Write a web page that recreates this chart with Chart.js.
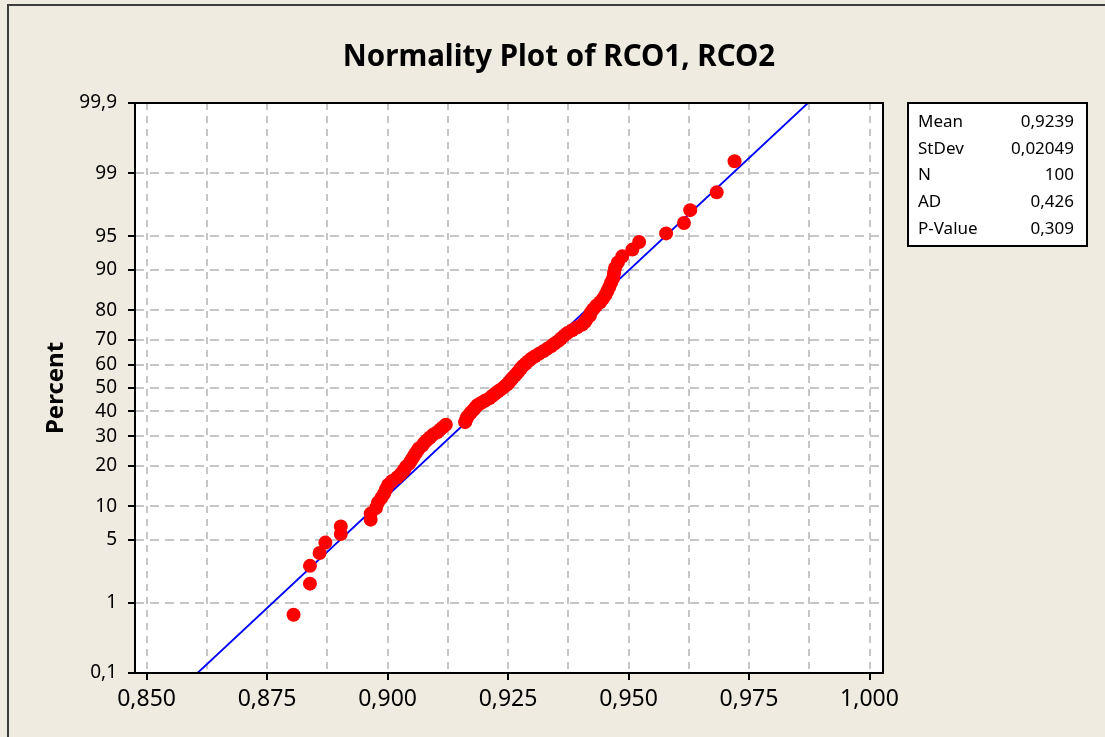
<!DOCTYPE html>
<html>
<head>
<meta charset="utf-8">
<title>Normality Plot of RCO1, RCO2</title>
<script src="https://cdn.jsdelivr.net/npm/chart.js@4.4.1/dist/chart.umd.min.js"></script>
<style>
  html, body { margin: 0; padding: 0; background: #EFEBE1; }
  #wrap { width: 1105px; height: 737px; }
</style>
</head>
<body>
<div id="wrap"><canvas id="plot" width="1105" height="737"></canvas></div>
<script>
// Sorted observations (pooled RCO1, RCO2), N = 100
const rcoValues = [
  0.8805, 0.8839, 0.8839, 0.8859, 0.8871, 0.8903, 0.8903, 0.8965, 0.8965, 0.8976,
  0.8980, 0.8987, 0.8993, 0.8997, 0.9001, 0.9009, 0.9020, 0.9028, 0.9034, 0.9038,
  0.9045, 0.9049, 0.9053, 0.9057, 0.9061, 0.9065, 0.9072, 0.9076, 0.9082, 0.9088,
  0.9094, 0.9103, 0.9109, 0.9115, 0.9121, 0.9161, 0.9163, 0.9165, 0.9169, 0.9173,
  0.9178, 0.9182, 0.9186, 0.9194, 0.9202, 0.9211, 0.9217, 0.9223, 0.9229, 0.9236,
  0.9242, 0.9248, 0.9252, 0.9256, 0.9260, 0.9265, 0.9269, 0.9273, 0.9277, 0.9281,
  0.9287, 0.9292, 0.9298, 0.9306, 0.9314, 0.9323, 0.9331, 0.9339, 0.9346, 0.9354,
  0.9360, 0.9366, 0.9373, 0.9383, 0.9393, 0.9404, 0.9410, 0.9414, 0.9420, 0.9422,
  0.9427, 0.9433, 0.9441, 0.9447, 0.9452, 0.9456, 0.9460, 0.9464, 0.9468, 0.9470,
  0.9472, 0.9478, 0.9487, 0.9508, 0.9522, 0.9578, 0.9615, 0.9628, 0.9683, 0.9720
];

// Axis tick labels
const xTickValues = [0.850, 0.875, 0.900, 0.925, 0.950, 0.975, 1.000];
const percentTicks = [0.1, 1, 5, 10, 20, 30, 40, 50, 60, 70, 80, 90, 95, 99, 99.9];

// Summary statistics shown in the side table
const statLabels = ['Mean', 'StDev', 'N', 'AD', 'P-Value'];
const statValues = ['0,9239', '0,02049', '100', '0,426', '0,309'];
const fitMean = 0.9239;
const fitStDev = 0.02049;

const chartTitle = 'Normality Plot of RCO1, RCO2';
const FONT = "'Noto Sans', 'DejaVu Sans', sans-serif";

// Inverse standard normal CDF (Acklam's rational approximation)
function qnorm(p) {
  const a = [-3.969683028665376e+01, 2.209460984245205e+02, -2.759285104469687e+02,
             1.383577518672690e+02, -3.066479806614716e+01, 2.506628277459239e+00];
  const b = [-5.447609879822406e+01, 1.615858368580409e+02, -1.556989798598866e+02,
             6.680131188771972e+01, -1.328068155288572e+01];
  const c = [-7.784894002430293e-03, -3.223964580411365e-01, -2.400758277161838e+00,
             -2.549732539343734e+00, 4.374664141464968e+00, 2.938163982698783e+00];
  const d = [7.784695709041462e-03, 3.224671290700398e-01, 2.445134137142996e+00,
             3.754408661907416e+00];
  const pl = 0.02425, ph = 1 - pl;
  let q, r;
  if (p < pl) {
    q = Math.sqrt(-2 * Math.log(p));
    return (((((c[0]*q + c[1])*q + c[2])*q + c[3])*q + c[4])*q + c[5]) /
           ((((d[0]*q + d[1])*q + d[2])*q + d[3])*q + 1);
  }
  if (p <= ph) {
    q = p - 0.5; r = q * q;
    return (((((a[0]*r + a[1])*r + a[2])*r + a[3])*r + a[4])*r + a[5]) * q /
           (((((b[0]*r + b[1])*r + b[2])*r + b[3])*r + b[4])*r + 1);
  }
  q = Math.sqrt(-2 * Math.log(1 - p));
  return -(((((c[0]*q + c[1])*q + c[2])*q + c[3])*q + c[4])*q + c[5]) /
          ((((d[0]*q + d[1])*q + d[2])*q + d[3])*q + 1);
}

// Probability-scale positions: median ranks (i - 0.3) / (n + 0.4)
const n = rcoValues.length;
const points = rcoValues.map((v, i) => ({ x: v, y: qnorm((i + 1 - 0.3) / (n + 0.4)) }));

const zMin = qnorm(percentTicks[0] / 100);
const zMax = qnorm(percentTicks[percentTicks.length - 1] / 100);
const fitLine = [
  { x: fitMean + zMin * fitStDev, y: zMin },
  { x: fitMean + zMax * fitStDev, y: zMax }
];

// Grid every half step between labelled x ticks
const xGridValues = [];
xTickValues.forEach((v, i) => {
  xGridValues.push(v);
  if (i < xTickValues.length - 1) xGridValues.push((v + xTickValues[i + 1]) / 2);
});

const fmtComma = (v) => String(v).replace('.', ',');

const decor = {
  id: 'decor',
  beforeDraw(chart) {
    const { ctx, chartArea: a } = chart;
    ctx.save();
    ctx.fillStyle = '#EFEBE1';
    ctx.fillRect(0, 0, chart.width, chart.height);
    ctx.strokeStyle = '#3C3C3C';
    ctx.lineWidth = 2;
    ctx.strokeRect(8, 5, chart.width + 20, chart.height + 20);
    ctx.fillStyle = '#FFFFFF';
    ctx.fillRect(a.left, a.top, a.right - a.left, a.bottom - a.top);
    ctx.restore();
  },
  afterDraw(chart) {
    const { ctx, chartArea: a } = chart;
    ctx.save();
    // plot frame
    ctx.strokeStyle = '#000';
    ctx.lineWidth = 2;
    ctx.strokeRect(a.left, a.top, a.right - a.left, a.bottom - a.top);

    // title
    ctx.fillStyle = '#000';
    ctx.font = "bold 29.5px " + FONT;
    ctx.textAlign = 'center';
    ctx.textBaseline = 'middle';
    ctx.fillText(chartTitle, 559, 58);

    // statistics table
    const bx = 908, by = 103, bw = 179, bh = 143;
    ctx.fillStyle = '#FFFFFF';
    ctx.fillRect(bx, by, bw, bh);
    ctx.strokeStyle = '#000';
    ctx.lineWidth = 2;
    ctx.strokeRect(bx, by, bw, bh);
    ctx.fillStyle = '#000';
    ctx.font = "17px " + FONT;
    ctx.textBaseline = 'middle';
    statLabels.forEach((lab, i) => {
      const y = 122 + i * 26.8;
      ctx.textAlign = 'left';
      ctx.fillText(lab, 918, y);
      ctx.textAlign = 'right';
      ctx.fillText(statValues[i], 1074, y);
    });
    ctx.restore();
  }
};

new Chart(document.getElementById('plot'), {
  type: 'scatter',
  data: {
    datasets: [
      {
        label: 'RCO',
        data: points,
        backgroundColor: '#FF0000',
        borderColor: '#FF0000',
        borderWidth: 0,
        pointRadius: 7,
        pointHoverRadius: 7
      },
      {
        label: 'Fit',
        data: fitLine,
        showLine: true,
        borderColor: '#0000FF',
        borderWidth: 1.8,
        pointRadius: 0,
        fill: false
      }
    ]
  },
  plugins: [decor],
  options: {
    responsive: false,
    animation: false,
    layout: { padding: { left: 0, top: 103, right: 222, bottom: 14 } },
    plugins: {
      legend: { display: false },
      tooltip: { enabled: false },
      title: { display: false }
    },
    scales: {
      x: {
        type: 'linear',
        min: 0.8476,
        max: 1.0028,
        afterFit: (s) => { s.height = 50; },
        afterBuildTicks: (s) => { s.ticks = xGridValues.map(v => ({ value: v })); },
        border: { display: false, dash: [7, 6] },
        grid: {
          color: '#C6C6C6',
          lineWidth: 2,
          drawTicks: true,
          tickLength: 7,
          tickWidth: 2,
          tickBorderDash: [],
          tickColor: (ctx) => (ctx.index % 2 === 0 ? '#000000' : 'rgba(0,0,0,0)')
        },
        ticks: {
          autoSkip: false,
          maxRotation: 0,
          padding: 6,
          color: '#000',
          font: { family: FONT, size: 23 },
          callback: (v, i) => (i % 2 === 0 ? Number(v).toFixed(3).replace('.', ',') : '')
        }
      },
      y: {
        type: 'linear',
        min: zMin,
        max: zMax,
        afterFit: (s) => { s.width = 135; },
        afterBuildTicks: (s) => { s.ticks = percentTicks.map(p => ({ value: qnorm(p / 100) })); },
        border: { display: false, dash: [9, 6] },
        grid: {
          color: '#C6C6C6',
          lineWidth: 2,
          drawTicks: true,
          tickLength: 7,
          tickWidth: 2,
          tickBorderDash: [],
          tickColor: '#000000'
        },
        ticks: {
          autoSkip: false,
          padding: 11,
          color: '#000',
          font: { family: FONT, size: 19 },
          callback: (v, i) => fmtComma(percentTicks[i])
        },
        title: {
          display: true,
          text: 'Percent',
          color: '#000',
          font: { family: FONT, size: 24, weight: 'bold' },
          padding: { top: 42, bottom: 0 }
        }
      }
    }
  }
});
</script>
</body>
</html>
